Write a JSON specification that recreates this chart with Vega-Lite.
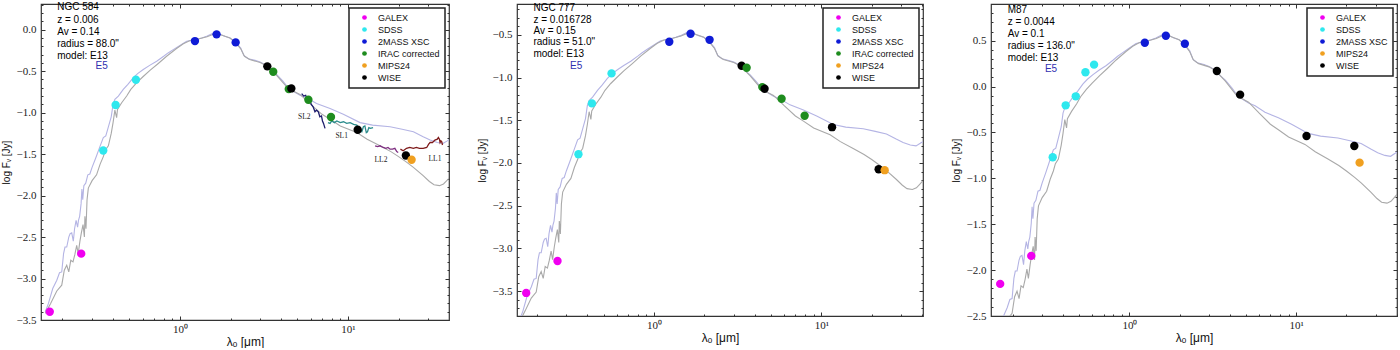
{
"$schema": "https://vega.github.io/schema/vega-lite/v6.json",
"background": "white",
"padding": {"left": 0, "top": 1, "right": 0, "bottom": 0},
"bounds": "flush",
"spacing": 68,
"config": {
  "view": {"stroke": "#333333", "strokeWidth": 1.2},
  "axis": {"domain": false, "grid": false, "tickColor": "#333333", "tickWidth": 1, "labelFont": "Liberation Serif", "labelFontSize": 11, "labelColor": "#222222", "titleFont": "Liberation Sans", "titleFontWeight": "normal", "titleColor": "#111111", "labelOverlap": false, "labelFlush": false, "labelBound": false},
  "legend": {"orient": "top-right", "offset": 4, "padding": 5, "strokeColor": "#222222", "strokeWidth": 1.5, "fillColor": "#ffffff", "cornerRadius": 0, "labelFont": "Liberation Sans", "labelFontSize": 9, "labelColor": "#111111", "symbolSize": 22, "symbolOffset": 6, "labelOffset": 9, "rowPadding": 2, "symbolStrokeWidth": 0}
},
"datasets": {
"pts": [
{"p":1,"inst":"GALEX","lam":0.168,"f":-3.40},{"p":1,"inst":"GALEX","lam":0.2585,"f":-2.70},
{"p":1,"inst":"SDSS","lam":0.3496,"f":-1.456},{"p":1,"inst":"SDSS","lam":0.4143,"f":-0.908},{"p":1,"inst":"SDSS","lam":0.547,"f":-0.603},
{"p":1,"inst":"2MASS XSC","lam":1.228,"f":-0.137},{"p":1,"inst":"2MASS XSC","lam":1.652,"f":-0.056},{"p":1,"inst":"2MASS XSC","lam":2.145,"f":-0.153},
{"p":1,"inst":"WISE","lam":3.31,"f":-0.442},
{"p":1,"inst":"IRAC corrected","lam":3.59,"f":-0.507},{"p":1,"inst":"IRAC corrected","lam":4.44,"f":-0.716},{"p":1,"inst":"IRAC corrected","lam":5.81,"f":-0.844},{"p":1,"inst":"IRAC corrected","lam":7.92,"f":-1.053},
{"p":1,"inst":"WISE","lam":4.6,"f":-0.708},{"p":1,"inst":"WISE","lam":11.42,"f":-1.206},{"p":1,"inst":"WISE","lam":22.1,"f":-1.516},
{"p":1,"inst":"MIPS24","lam":23.9,"f":-1.568},
{"p":2,"inst":"GALEX","lam":0.1725,"f":-3.52},{"p":2,"inst":"GALEX","lam":0.2654,"f":-3.146},
{"p":2,"inst":"SDSS","lam":0.354,"f":-1.897},{"p":2,"inst":"SDSS","lam":0.426,"f":-1.303},{"p":2,"inst":"SDSS","lam":0.558,"f":-0.952},
{"p":2,"inst":"2MASS XSC","lam":1.235,"f":-0.582},{"p":2,"inst":"2MASS XSC","lam":1.655,"f":-0.488},{"p":2,"inst":"2MASS XSC","lam":2.15,"f":-0.559},
{"p":2,"inst":"WISE","lam":3.34,"f":-0.863},
{"p":2,"inst":"IRAC corrected","lam":3.58,"f":-0.886},{"p":2,"inst":"IRAC corrected","lam":4.44,"f":-1.112},{"p":2,"inst":"IRAC corrected","lam":5.79,"f":-1.249},{"p":2,"inst":"IRAC corrected","lam":7.95,"f":-1.448},
{"p":2,"inst":"WISE","lam":4.58,"f":-1.132},{"p":2,"inst":"WISE","lam":11.59,"f":-1.581},{"p":2,"inst":"WISE","lam":22.0,"f":-2.073},
{"p":2,"inst":"MIPS24","lam":23.9,"f":-2.084},
{"p":3,"inst":"GALEX","lam":0.168,"f":-2.15},{"p":3,"inst":"GALEX","lam":0.258,"f":-1.845},
{"p":3,"inst":"SDSS","lam":0.347,"f":-0.77},{"p":3,"inst":"SDSS","lam":0.415,"f":-0.204},{"p":3,"inst":"SDSS","lam":0.477,"f":-0.106},{"p":3,"inst":"SDSS","lam":0.545,"f":0.156},{"p":3,"inst":"SDSS","lam":0.614,"f":0.239},
{"p":3,"inst":"2MASS XSC","lam":1.237,"f":0.478},{"p":3,"inst":"2MASS XSC","lam":1.654,"f":0.554},{"p":3,"inst":"2MASS XSC","lam":2.15,"f":0.467},
{"p":3,"inst":"WISE","lam":3.344,"f":0.17},{"p":3,"inst":"WISE","lam":4.61,"f":-0.088},{"p":3,"inst":"WISE","lam":11.53,"f":-0.538},{"p":3,"inst":"WISE","lam":22.3,"f":-0.647},
{"p":3,"inst":"MIPS24","lam":23.99,"f":-0.829}
],
"ann": [
{"p":1,"c":"k","t":"NGC 584","lam":0.186,"f":0.274},{"p":1,"c":"k","t":"z = 0.006","lam":0.186,"f":0.121},{"p":1,"c":"k","t":"Av = 0.14","lam":0.186,"f":-0.028},{"p":1,"c":"k","t":"radius = 88.0\"","lam":0.186,"f":-0.172},{"p":1,"c":"k","t":"model: E13","lam":0.186,"f":-0.314},{"p":1,"c":"b","t":"E5","lam":0.342,"f":-0.443},
{"p":2,"c":"k","t":"NGC 777","lam":0.1906,"f":-0.191},{"p":2,"c":"k","t":"z = 0.016728","lam":0.1906,"f":-0.328},{"p":2,"c":"k","t":"Av = 0.15","lam":0.1906,"f":-0.457},{"p":2,"c":"k","t":"radius = 51.0\"","lam":0.1906,"f":-0.589},{"p":2,"c":"k","t":"model: E13","lam":0.1906,"f":-0.726},{"p":2,"c":"b","t":"E5","lam":0.343,"f":-0.863},
{"p":3,"c":"k","t":"M87","lam":0.1864,"f":0.834},{"p":3,"c":"k","t":"z = 0.0044","lam":0.1864,"f":0.704},{"p":3,"c":"k","t":"Av = 0.1","lam":0.1864,"f":0.573},{"p":3,"c":"k","t":"radius = 136.0\"","lam":0.1864,"f":0.442},{"p":3,"c":"k","t":"model: E13","lam":0.1864,"f":0.312},{"p":3,"c":"b","t":"E5","lam":0.339,"f":0.192}
],
"irs": [
{"seg":"SL2","lam":5.30,"f":-0.77},{"seg":"SL2","lam":5.45,"f":-0.80},{"seg":"SL2","lam":5.60,"f":-0.79},{"seg":"SL2","lam":5.75,"f":-0.85},{"seg":"SL2","lam":5.90,"f":-0.84},{"seg":"SL2","lam":6.05,"f":-0.90},{"seg":"SL2","lam":6.20,"f":-0.93},{"seg":"SL2","lam":6.36,"f":-0.99},{"seg":"SL2","lam":6.50,"f":-0.97},{"seg":"SL2","lam":6.66,"f":-0.99},{"seg":"SL2","lam":6.80,"f":-1.05},{"seg":"SL2","lam":6.95,"f":-1.04},{"seg":"SL2","lam":7.05,"f":-1.10},{"seg":"SL2","lam":7.15,"f":-1.13},{"seg":"SL2","lam":7.30,"f":-1.19},
{"seg":"SL1","lam":7.60,"f":-1.12},{"seg":"SL1","lam":7.82,"f":-1.13},{"seg":"SL1","lam":8.0,"f":-1.10},{"seg":"SL1","lam":8.3,"f":-1.12},{"seg":"SL1","lam":8.58,"f":-1.10},{"seg":"SL1","lam":9.0,"f":-1.12},{"seg":"SL1","lam":9.4,"f":-1.11},{"seg":"SL1","lam":9.82,"f":-1.13},{"seg":"SL1","lam":10.3,"f":-1.12},{"seg":"SL1","lam":10.8,"f":-1.14},{"seg":"SL1","lam":11.28,"f":-1.15},{"seg":"SL1","lam":11.7,"f":-1.20},{"seg":"SL1","lam":12.08,"f":-1.23},{"seg":"SL1","lam":12.35,"f":-1.17},{"seg":"SL1","lam":12.6,"f":-1.16},{"seg":"SL1","lam":12.85,"f":-1.24},{"seg":"SL1","lam":13.06,"f":-1.23},{"seg":"SL1","lam":13.3,"f":-1.18},{"seg":"SL1","lam":13.6,"f":-1.19},{"seg":"SL1","lam":14.1,"f":-1.18},
{"seg":"LL2","lam":14.5,"f":-1.40},{"seg":"LL2","lam":15.0,"f":-1.41},{"seg":"LL2","lam":15.5,"f":-1.40},{"seg":"LL2","lam":16.2,"f":-1.42},{"seg":"LL2","lam":16.8,"f":-1.43},{"seg":"LL2","lam":17.3,"f":-1.42},{"seg":"LL2","lam":17.8,"f":-1.44},{"seg":"LL2","lam":18.4,"f":-1.44},{"seg":"LL2","lam":19.0,"f":-1.43},{"seg":"LL2","lam":19.5,"f":-1.47},{"seg":"LL2","lam":19.9,"f":-1.48},
{"seg":"LL1","lam":20.5,"f":-1.44},{"seg":"LL1","lam":21.3,"f":-1.46},{"seg":"LL1","lam":22.3,"f":-1.43},{"seg":"LL1","lam":23.3,"f":-1.42},{"seg":"LL1","lam":24.5,"f":-1.43},{"seg":"LL1","lam":25.5,"f":-1.42},{"seg":"LL1","lam":26.6,"f":-1.43},{"seg":"LL1","lam":28.0,"f":-1.43},{"seg":"LL1","lam":29.4,"f":-1.42},{"seg":"LL1","lam":30.2,"f":-1.38},{"seg":"LL1","lam":30.8,"f":-1.36},{"seg":"LL1","lam":31.8,"f":-1.36},{"seg":"LL1","lam":32.9,"f":-1.33},{"seg":"LL1","lam":34.0,"f":-1.32},{"seg":"LL1","lam":34.5,"f":-1.30},{"seg":"LL1","lam":35.0,"f":-1.32},{"seg":"LL1","lam":35.3,"f":-1.36},{"seg":"LL1","lam":35.7,"f":-1.34},{"seg":"LL1","lam":36.1,"f":-1.35},{"seg":"LL1","lam":36.5,"f":-1.39}
],
"irslab": [
{"t":"SL2","lam":5.5,"f":-1.05},{"t":"SL1","lam":9.17,"f":-1.28},{"t":"LL2","lam":15.7,"f":-1.57},{"t":"LL1","lam":32.9,"f":-1.556}
],
"models": [
{"p":1,"m":"E5","lam":0.158,"f":-3.40},{"p":1,"m":"E5","lam":0.165,"f":-3.30},{"p":1,"m":"E5","lam":0.175,"f":-3.12},{"p":1,"m":"E5","lam":0.185,"f":-3.02},{"p":1,"m":"E5","lam":0.192,"f":-2.93},{"p":1,"m":"E5","lam":0.198,"f":-2.92},{"p":1,"m":"E5","lam":0.203,"f":-2.70},{"p":1,"m":"E5","lam":0.207,"f":-2.62},{"p":1,"m":"E5","lam":0.212,"f":-2.62},{"p":1,"m":"E5","lam":0.218,"f":-2.50},{"p":1,"m":"E5","lam":0.222,"f":-2.46},{"p":1,"m":"E5","lam":0.227,"f":-2.45},{"p":1,"m":"E5","lam":0.232,"f":-2.55},{"p":1,"m":"E5","lam":0.236,"f":-2.40},{"p":1,"m":"E5","lam":0.241,"f":-2.30},{"p":1,"m":"E5","lam":0.246,"f":-2.38},{"p":1,"m":"E5","lam":0.249,"f":-2.30},{"p":1,"m":"E5","lam":0.253,"f":-2.25},{"p":1,"m":"E5","lam":0.258,"f":-2.10},{"p":1,"m":"E5","lam":0.261,"f":-1.92},{"p":1,"m":"E5","lam":0.264,"f":-2.05},{"p":1,"m":"E5","lam":0.268,"f":-1.88},{"p":1,"m":"E5","lam":0.275,"f":-1.85},{"p":1,"m":"E5","lam":0.283,"f":-1.75},{"p":1,"m":"E5","lam":0.291,"f":-1.74},{"p":1,"m":"E5","lam":0.30,"f":-1.66},{"p":1,"m":"E5","lam":0.315,"f":-1.55},{"p":1,"m":"E5","lam":0.334,"f":-1.41},{"p":1,"m":"E5","lam":0.350,"f":-1.30},{"p":1,"m":"E5","lam":0.362,"f":-1.28},{"p":1,"m":"E5","lam":0.374,"f":-1.18},{"p":1,"m":"E5","lam":0.39,"f":-1.05},{"p":1,"m":"E5","lam":0.40,"f":-0.90},{"p":1,"m":"E5","lam":0.41,"f":-0.84},{"p":1,"m":"E5","lam":0.43,"f":-0.80},{"p":1,"m":"E5","lam":0.46,"f":-0.72},{"p":1,"m":"E5","lam":0.49,"f":-0.66},{"p":1,"m":"E5","lam":0.527,"f":-0.58},{"p":1,"m":"E5","lam":0.56,"f":-0.53},{"p":1,"m":"E5","lam":0.605,"f":-0.48},{"p":1,"m":"E5","lam":0.66,"f":-0.43},{"p":1,"m":"E5","lam":0.727,"f":-0.38},{"p":1,"m":"E5","lam":0.80,"f":-0.32},{"p":1,"m":"E5","lam":0.85,"f":-0.28},{"p":1,"m":"E5","lam":0.912,"f":-0.24},{"p":1,"m":"E5","lam":1.00,"f":-0.19},{"p":1,"m":"E5","lam":1.096,"f":-0.14},{"p":1,"m":"E5","lam":1.23,"f":-0.12},{"p":1,"m":"E5","lam":1.35,"f":-0.10},{"p":1,"m":"E5","lam":1.442,"f":-0.08},{"p":1,"m":"E5","lam":1.55,"f":-0.05},{"p":1,"m":"E5","lam":1.65,"f":-0.035},{"p":1,"m":"E5","lam":1.75,"f":-0.06},{"p":1,"m":"E5","lam":1.85,"f":-0.08},{"p":1,"m":"E5","lam":1.985,"f":-0.10},{"p":1,"m":"E5","lam":2.145,"f":-0.15},{"p":1,"m":"E5","lam":2.30,"f":-0.22},{"p":1,"m":"E5","lam":2.40,"f":-0.31},{"p":1,"m":"E5","lam":2.55,"f":-0.35},{"p":1,"m":"E5","lam":2.80,"f":-0.37},{"p":1,"m":"E5","lam":3.00,"f":-0.39},{"p":1,"m":"E5","lam":3.28,"f":-0.43},{"p":1,"m":"E5","lam":3.50,"f":-0.49},{"p":1,"m":"E5","lam":3.76,"f":-0.54},{"p":1,"m":"E5","lam":4.10,"f":-0.62},{"p":1,"m":"E5","lam":4.41,"f":-0.70},{"p":1,"m":"E5","lam":4.80,"f":-0.75},{"p":1,"m":"E5","lam":5.18,"f":-0.79},{"p":1,"m":"E5","lam":5.67,"f":-0.82},{"p":1,"m":"E5","lam":6.50,"f":-0.89},{"p":1,"m":"E5","lam":7.82,"f":-0.95},{"p":1,"m":"E5","lam":9.38,"f":-1.02},{"p":1,"m":"E5","lam":11.8,"f":-1.12},{"p":1,"m":"E5","lam":14.0,"f":-1.15},{"p":1,"m":"E5","lam":17.8,"f":-1.17},{"p":1,"m":"E5","lam":21.0,"f":-1.20},{"p":1,"m":"E5","lam":24.5,"f":-1.23},{"p":1,"m":"E5","lam":28.0,"f":-1.29},{"p":1,"m":"E5","lam":30.8,"f":-1.33},{"p":1,"m":"E5","lam":34.0,"f":-1.36},{"p":1,"m":"E5","lam":36.8,"f":-1.37},{"p":1,"m":"E5","lam":39.0,"f":-1.34},{"p":1,"m":"E5","lam":40.4,"f":-1.32},
{"p":2,"m":"E5","lam":0.158,"f":-3.83},{"p":2,"m":"E5","lam":0.165,"f":-3.73},{"p":2,"m":"E5","lam":0.175,"f":-3.55},{"p":2,"m":"E5","lam":0.185,"f":-3.45},{"p":2,"m":"E5","lam":0.192,"f":-3.36},{"p":2,"m":"E5","lam":0.198,"f":-3.35},{"p":2,"m":"E5","lam":0.203,"f":-3.13},{"p":2,"m":"E5","lam":0.207,"f":-3.05},{"p":2,"m":"E5","lam":0.212,"f":-3.05},{"p":2,"m":"E5","lam":0.218,"f":-2.93},{"p":2,"m":"E5","lam":0.222,"f":-2.89},{"p":2,"m":"E5","lam":0.227,"f":-2.88},{"p":2,"m":"E5","lam":0.232,"f":-2.98},{"p":2,"m":"E5","lam":0.236,"f":-2.83},{"p":2,"m":"E5","lam":0.241,"f":-2.73},{"p":2,"m":"E5","lam":0.246,"f":-2.81},{"p":2,"m":"E5","lam":0.249,"f":-2.73},{"p":2,"m":"E5","lam":0.253,"f":-2.68},{"p":2,"m":"E5","lam":0.258,"f":-2.53},{"p":2,"m":"E5","lam":0.261,"f":-2.35},{"p":2,"m":"E5","lam":0.264,"f":-2.48},{"p":2,"m":"E5","lam":0.268,"f":-2.31},{"p":2,"m":"E5","lam":0.275,"f":-2.28},{"p":2,"m":"E5","lam":0.283,"f":-2.18},{"p":2,"m":"E5","lam":0.291,"f":-2.17},{"p":2,"m":"E5","lam":0.30,"f":-2.09},{"p":2,"m":"E5","lam":0.315,"f":-1.98},{"p":2,"m":"E5","lam":0.334,"f":-1.84},{"p":2,"m":"E5","lam":0.350,"f":-1.73},{"p":2,"m":"E5","lam":0.362,"f":-1.71},{"p":2,"m":"E5","lam":0.374,"f":-1.61},{"p":2,"m":"E5","lam":0.39,"f":-1.48},{"p":2,"m":"E5","lam":0.40,"f":-1.33},{"p":2,"m":"E5","lam":0.41,"f":-1.27},{"p":2,"m":"E5","lam":0.43,"f":-1.23},{"p":2,"m":"E5","lam":0.46,"f":-1.15},{"p":2,"m":"E5","lam":0.49,"f":-1.09},{"p":2,"m":"E5","lam":0.527,"f":-1.01},{"p":2,"m":"E5","lam":0.56,"f":-0.96},{"p":2,"m":"E5","lam":0.605,"f":-0.91},{"p":2,"m":"E5","lam":0.66,"f":-0.86},{"p":2,"m":"E5","lam":0.727,"f":-0.81},{"p":2,"m":"E5","lam":0.80,"f":-0.75},{"p":2,"m":"E5","lam":0.85,"f":-0.71},{"p":2,"m":"E5","lam":0.912,"f":-0.67},{"p":2,"m":"E5","lam":1.00,"f":-0.62},{"p":2,"m":"E5","lam":1.096,"f":-0.57},{"p":2,"m":"E5","lam":1.23,"f":-0.55},{"p":2,"m":"E5","lam":1.35,"f":-0.53},{"p":2,"m":"E5","lam":1.442,"f":-0.51},{"p":2,"m":"E5","lam":1.55,"f":-0.48},{"p":2,"m":"E5","lam":1.65,"f":-0.465},{"p":2,"m":"E5","lam":1.75,"f":-0.49},{"p":2,"m":"E5","lam":1.85,"f":-0.51},{"p":2,"m":"E5","lam":1.985,"f":-0.53},{"p":2,"m":"E5","lam":2.145,"f":-0.58},{"p":2,"m":"E5","lam":2.30,"f":-0.65},{"p":2,"m":"E5","lam":2.40,"f":-0.74},{"p":2,"m":"E5","lam":2.55,"f":-0.78},{"p":2,"m":"E5","lam":2.80,"f":-0.80},{"p":2,"m":"E5","lam":3.00,"f":-0.82},{"p":2,"m":"E5","lam":3.28,"f":-0.86},{"p":2,"m":"E5","lam":3.50,"f":-0.92},{"p":2,"m":"E5","lam":3.76,"f":-0.97},{"p":2,"m":"E5","lam":4.10,"f":-1.05},{"p":2,"m":"E5","lam":4.41,"f":-1.13},{"p":2,"m":"E5","lam":4.80,"f":-1.18},{"p":2,"m":"E5","lam":5.18,"f":-1.22},{"p":2,"m":"E5","lam":5.67,"f":-1.25},{"p":2,"m":"E5","lam":6.50,"f":-1.32},{"p":2,"m":"E5","lam":7.82,"f":-1.38},{"p":2,"m":"E5","lam":9.38,"f":-1.45},{"p":2,"m":"E5","lam":11.8,"f":-1.55},{"p":2,"m":"E5","lam":14.0,"f":-1.58},{"p":2,"m":"E5","lam":17.8,"f":-1.60},{"p":2,"m":"E5","lam":21.0,"f":-1.63},{"p":2,"m":"E5","lam":24.5,"f":-1.66},{"p":2,"m":"E5","lam":28.0,"f":-1.72},{"p":2,"m":"E5","lam":30.8,"f":-1.76},{"p":2,"m":"E5","lam":34.0,"f":-1.79},{"p":2,"m":"E5","lam":36.8,"f":-1.80},{"p":2,"m":"E5","lam":39.0,"f":-1.77},{"p":2,"m":"E5","lam":40.4,"f":-1.75},
{"p":3,"m":"E5","lam":0.158,"f":-2.79},{"p":3,"m":"E5","lam":0.165,"f":-2.69},{"p":3,"m":"E5","lam":0.175,"f":-2.51},{"p":3,"m":"E5","lam":0.185,"f":-2.41},{"p":3,"m":"E5","lam":0.192,"f":-2.32},{"p":3,"m":"E5","lam":0.198,"f":-2.31},{"p":3,"m":"E5","lam":0.203,"f":-2.09},{"p":3,"m":"E5","lam":0.207,"f":-2.01},{"p":3,"m":"E5","lam":0.212,"f":-2.01},{"p":3,"m":"E5","lam":0.218,"f":-1.89},{"p":3,"m":"E5","lam":0.222,"f":-1.85},{"p":3,"m":"E5","lam":0.227,"f":-1.84},{"p":3,"m":"E5","lam":0.232,"f":-1.94},{"p":3,"m":"E5","lam":0.236,"f":-1.79},{"p":3,"m":"E5","lam":0.241,"f":-1.69},{"p":3,"m":"E5","lam":0.246,"f":-1.77},{"p":3,"m":"E5","lam":0.249,"f":-1.69},{"p":3,"m":"E5","lam":0.253,"f":-1.64},{"p":3,"m":"E5","lam":0.258,"f":-1.49},{"p":3,"m":"E5","lam":0.261,"f":-1.31},{"p":3,"m":"E5","lam":0.264,"f":-1.44},{"p":3,"m":"E5","lam":0.268,"f":-1.27},{"p":3,"m":"E5","lam":0.275,"f":-1.24},{"p":3,"m":"E5","lam":0.283,"f":-1.14},{"p":3,"m":"E5","lam":0.291,"f":-1.13},{"p":3,"m":"E5","lam":0.30,"f":-1.05},{"p":3,"m":"E5","lam":0.315,"f":-0.94},{"p":3,"m":"E5","lam":0.334,"f":-0.80},{"p":3,"m":"E5","lam":0.350,"f":-0.69},{"p":3,"m":"E5","lam":0.362,"f":-0.67},{"p":3,"m":"E5","lam":0.374,"f":-0.57},{"p":3,"m":"E5","lam":0.39,"f":-0.44},{"p":3,"m":"E5","lam":0.40,"f":-0.29},{"p":3,"m":"E5","lam":0.41,"f":-0.23},{"p":3,"m":"E5","lam":0.43,"f":-0.19},{"p":3,"m":"E5","lam":0.46,"f":-0.11},{"p":3,"m":"E5","lam":0.49,"f":-0.05},{"p":3,"m":"E5","lam":0.527,"f":0.03},{"p":3,"m":"E5","lam":0.56,"f":0.08},{"p":3,"m":"E5","lam":0.605,"f":0.13},{"p":3,"m":"E5","lam":0.66,"f":0.18},{"p":3,"m":"E5","lam":0.727,"f":0.23},{"p":3,"m":"E5","lam":0.80,"f":0.29},{"p":3,"m":"E5","lam":0.85,"f":0.33},{"p":3,"m":"E5","lam":0.912,"f":0.37},{"p":3,"m":"E5","lam":1.00,"f":0.42},{"p":3,"m":"E5","lam":1.096,"f":0.47},{"p":3,"m":"E5","lam":1.23,"f":0.49},{"p":3,"m":"E5","lam":1.35,"f":0.51},{"p":3,"m":"E5","lam":1.442,"f":0.53},{"p":3,"m":"E5","lam":1.55,"f":0.56},{"p":3,"m":"E5","lam":1.65,"f":0.575},{"p":3,"m":"E5","lam":1.75,"f":0.55},{"p":3,"m":"E5","lam":1.85,"f":0.53},{"p":3,"m":"E5","lam":1.985,"f":0.51},{"p":3,"m":"E5","lam":2.145,"f":0.46},{"p":3,"m":"E5","lam":2.30,"f":0.39},{"p":3,"m":"E5","lam":2.40,"f":0.30},{"p":3,"m":"E5","lam":2.55,"f":0.26},{"p":3,"m":"E5","lam":2.80,"f":0.24},{"p":3,"m":"E5","lam":3.00,"f":0.22},{"p":3,"m":"E5","lam":3.28,"f":0.18},{"p":3,"m":"E5","lam":3.50,"f":0.12},{"p":3,"m":"E5","lam":3.76,"f":0.07},{"p":3,"m":"E5","lam":4.10,"f":-0.01},{"p":3,"m":"E5","lam":4.41,"f":-0.09},{"p":3,"m":"E5","lam":4.80,"f":-0.14},{"p":3,"m":"E5","lam":5.18,"f":-0.18},{"p":3,"m":"E5","lam":5.67,"f":-0.21},{"p":3,"m":"E5","lam":6.50,"f":-0.28},{"p":3,"m":"E5","lam":7.82,"f":-0.34},{"p":3,"m":"E5","lam":9.38,"f":-0.41},{"p":3,"m":"E5","lam":11.8,"f":-0.51},{"p":3,"m":"E5","lam":14.0,"f":-0.54},{"p":3,"m":"E5","lam":17.8,"f":-0.56},{"p":3,"m":"E5","lam":21.0,"f":-0.59},{"p":3,"m":"E5","lam":24.5,"f":-0.62},{"p":3,"m":"E5","lam":28.0,"f":-0.68},{"p":3,"m":"E5","lam":30.8,"f":-0.72},{"p":3,"m":"E5","lam":34.0,"f":-0.75},{"p":3,"m":"E5","lam":36.8,"f":-0.76},{"p":3,"m":"E5","lam":39.0,"f":-0.73},{"p":3,"m":"E5","lam":40.4,"f":-0.71},
{"p":1,"m":"E13","lam":0.158,"f":-3.42},{"p":1,"m":"E13","lam":0.17,"f":-3.30},{"p":1,"m":"E13","lam":0.185,"f":-3.15},{"p":1,"m":"E13","lam":0.198,"f":-3.08},{"p":1,"m":"E13","lam":0.205,"f":-2.90},{"p":1,"m":"E13","lam":0.212,"f":-2.84},{"p":1,"m":"E13","lam":0.218,"f":-2.92},{"p":1,"m":"E13","lam":0.224,"f":-2.78},{"p":1,"m":"E13","lam":0.231,"f":-2.80},{"p":1,"m":"E13","lam":0.237,"f":-2.71},{"p":1,"m":"E13","lam":0.243,"f":-2.60},{"p":1,"m":"E13","lam":0.248,"f":-2.70},{"p":1,"m":"E13","lam":0.254,"f":-2.55},{"p":1,"m":"E13","lam":0.259,"f":-2.45},{"p":1,"m":"E13","lam":0.265,"f":-2.35},{"p":1,"m":"E13","lam":0.270,"f":-2.50},{"p":1,"m":"E13","lam":0.272,"f":-2.25},{"p":1,"m":"E13","lam":0.276,"f":-2.40},{"p":1,"m":"E13","lam":0.28,"f":-2.05},{"p":1,"m":"E13","lam":0.285,"f":-1.91},{"p":1,"m":"E13","lam":0.30,"f":-1.82},{"p":1,"m":"E13","lam":0.319,"f":-1.75},{"p":1,"m":"E13","lam":0.335,"f":-1.62},{"p":1,"m":"E13","lam":0.35,"f":-1.53},{"p":1,"m":"E13","lam":0.36,"f":-1.45},{"p":1,"m":"E13","lam":0.375,"f":-1.40},{"p":1,"m":"E13","lam":0.39,"f":-1.25},{"p":1,"m":"E13","lam":0.40,"f":-1.12},{"p":1,"m":"E13","lam":0.41,"f":-0.97},{"p":1,"m":"E13","lam":0.42,"f":-1.06},{"p":1,"m":"E13","lam":0.425,"f":-0.96},{"p":1,"m":"E13","lam":0.45,"f":-0.88},{"p":1,"m":"E13","lam":0.482,"f":-0.80},{"p":1,"m":"E13","lam":0.51,"f":-0.72},{"p":1,"m":"E13","lam":0.552,"f":-0.64},{"p":1,"m":"E13","lam":0.60,"f":-0.57},{"p":1,"m":"E13","lam":0.663,"f":-0.49},{"p":1,"m":"E13","lam":0.74,"f":-0.41},{"p":1,"m":"E13","lam":0.833,"f":-0.32},{"p":1,"m":"E13","lam":0.95,"f":-0.23},{"p":1,"m":"E13","lam":1.047,"f":-0.17},{"p":1,"m":"E13","lam":1.15,"f":-0.13},{"p":1,"m":"E13","lam":1.3,"f":-0.11},{"p":1,"m":"E13","lam":1.45,"f":-0.085},{"p":1,"m":"E13","lam":1.65,"f":-0.04},{"p":1,"m":"E13","lam":1.80,"f":-0.07},{"p":1,"m":"E13","lam":1.985,"f":-0.10},{"p":1,"m":"E13","lam":2.145,"f":-0.155},{"p":1,"m":"E13","lam":2.30,"f":-0.23},{"p":1,"m":"E13","lam":2.42,"f":-0.32},{"p":1,"m":"E13","lam":2.60,"f":-0.36},{"p":1,"m":"E13","lam":3.00,"f":-0.395},{"p":1,"m":"E13","lam":3.28,"f":-0.435},{"p":1,"m":"E13","lam":3.76,"f":-0.55},{"p":1,"m":"E13","lam":4.41,"f":-0.71},{"p":1,"m":"E13","lam":5.18,"f":-0.78},{"p":1,"m":"E13","lam":6.00,"f":-0.90},{"p":1,"m":"E13","lam":7.00,"f":-1.02},{"p":1,"m":"E13","lam":7.82,"f":-1.08},{"p":1,"m":"E13","lam":9.00,"f":-1.16},{"p":1,"m":"E13","lam":11.28,"f":-1.24},{"p":1,"m":"E13","lam":13.0,"f":-1.32},{"p":1,"m":"E13","lam":15.5,"f":-1.40},{"p":1,"m":"E13","lam":18.0,"f":-1.47},{"p":1,"m":"E13","lam":20.0,"f":-1.53},{"p":1,"m":"E13","lam":22.4,"f":-1.60},{"p":1,"m":"E13","lam":24.5,"f":-1.66},{"p":1,"m":"E13","lam":28.0,"f":-1.76},{"p":1,"m":"E13","lam":30.5,"f":-1.83},{"p":1,"m":"E13","lam":32.5,"f":-1.87},{"p":1,"m":"E13","lam":35.0,"f":-1.88},{"p":1,"m":"E13","lam":37.0,"f":-1.86},{"p":1,"m":"E13","lam":38.7,"f":-1.82},{"p":1,"m":"E13","lam":40.4,"f":-1.78},
{"p":2,"m":"E13","lam":0.158,"f":-3.85},{"p":2,"m":"E13","lam":0.17,"f":-3.73},{"p":2,"m":"E13","lam":0.185,"f":-3.58},{"p":2,"m":"E13","lam":0.198,"f":-3.51},{"p":2,"m":"E13","lam":0.205,"f":-3.33},{"p":2,"m":"E13","lam":0.212,"f":-3.27},{"p":2,"m":"E13","lam":0.218,"f":-3.35},{"p":2,"m":"E13","lam":0.224,"f":-3.21},{"p":2,"m":"E13","lam":0.231,"f":-3.23},{"p":2,"m":"E13","lam":0.237,"f":-3.14},{"p":2,"m":"E13","lam":0.243,"f":-3.03},{"p":2,"m":"E13","lam":0.248,"f":-3.13},{"p":2,"m":"E13","lam":0.254,"f":-2.98},{"p":2,"m":"E13","lam":0.259,"f":-2.88},{"p":2,"m":"E13","lam":0.265,"f":-2.78},{"p":2,"m":"E13","lam":0.270,"f":-2.93},{"p":2,"m":"E13","lam":0.272,"f":-2.68},{"p":2,"m":"E13","lam":0.276,"f":-2.83},{"p":2,"m":"E13","lam":0.28,"f":-2.48},{"p":2,"m":"E13","lam":0.285,"f":-2.34},{"p":2,"m":"E13","lam":0.30,"f":-2.25},{"p":2,"m":"E13","lam":0.319,"f":-2.18},{"p":2,"m":"E13","lam":0.335,"f":-2.05},{"p":2,"m":"E13","lam":0.35,"f":-1.96},{"p":2,"m":"E13","lam":0.36,"f":-1.88},{"p":2,"m":"E13","lam":0.375,"f":-1.83},{"p":2,"m":"E13","lam":0.39,"f":-1.68},{"p":2,"m":"E13","lam":0.40,"f":-1.55},{"p":2,"m":"E13","lam":0.41,"f":-1.40},{"p":2,"m":"E13","lam":0.42,"f":-1.49},{"p":2,"m":"E13","lam":0.425,"f":-1.39},{"p":2,"m":"E13","lam":0.45,"f":-1.31},{"p":2,"m":"E13","lam":0.482,"f":-1.23},{"p":2,"m":"E13","lam":0.51,"f":-1.15},{"p":2,"m":"E13","lam":0.552,"f":-1.07},{"p":2,"m":"E13","lam":0.60,"f":-1.00},{"p":2,"m":"E13","lam":0.663,"f":-0.92},{"p":2,"m":"E13","lam":0.74,"f":-0.84},{"p":2,"m":"E13","lam":0.833,"f":-0.75},{"p":2,"m":"E13","lam":0.95,"f":-0.66},{"p":2,"m":"E13","lam":1.047,"f":-0.60},{"p":2,"m":"E13","lam":1.15,"f":-0.56},{"p":2,"m":"E13","lam":1.3,"f":-0.54},{"p":2,"m":"E13","lam":1.45,"f":-0.515},{"p":2,"m":"E13","lam":1.65,"f":-0.47},{"p":2,"m":"E13","lam":1.80,"f":-0.50},{"p":2,"m":"E13","lam":1.985,"f":-0.53},{"p":2,"m":"E13","lam":2.145,"f":-0.585},{"p":2,"m":"E13","lam":2.30,"f":-0.66},{"p":2,"m":"E13","lam":2.42,"f":-0.75},{"p":2,"m":"E13","lam":2.60,"f":-0.79},{"p":2,"m":"E13","lam":3.00,"f":-0.825},{"p":2,"m":"E13","lam":3.28,"f":-0.865},{"p":2,"m":"E13","lam":3.76,"f":-0.98},{"p":2,"m":"E13","lam":4.41,"f":-1.14},{"p":2,"m":"E13","lam":5.18,"f":-1.21},{"p":2,"m":"E13","lam":6.00,"f":-1.33},{"p":2,"m":"E13","lam":7.00,"f":-1.45},{"p":2,"m":"E13","lam":7.82,"f":-1.51},{"p":2,"m":"E13","lam":9.00,"f":-1.59},{"p":2,"m":"E13","lam":11.28,"f":-1.67},{"p":2,"m":"E13","lam":13.0,"f":-1.75},{"p":2,"m":"E13","lam":15.5,"f":-1.83},{"p":2,"m":"E13","lam":18.0,"f":-1.90},{"p":2,"m":"E13","lam":20.0,"f":-1.96},{"p":2,"m":"E13","lam":22.4,"f":-2.03},{"p":2,"m":"E13","lam":24.5,"f":-2.09},{"p":2,"m":"E13","lam":28.0,"f":-2.19},{"p":2,"m":"E13","lam":30.5,"f":-2.26},{"p":2,"m":"E13","lam":32.5,"f":-2.30},{"p":2,"m":"E13","lam":35.0,"f":-2.31},{"p":2,"m":"E13","lam":37.0,"f":-2.29},{"p":2,"m":"E13","lam":38.7,"f":-2.25},{"p":2,"m":"E13","lam":40.4,"f":-2.21},
{"p":3,"m":"E13","lam":0.158,"f":-2.81},{"p":3,"m":"E13","lam":0.17,"f":-2.69},{"p":3,"m":"E13","lam":0.185,"f":-2.54},{"p":3,"m":"E13","lam":0.198,"f":-2.47},{"p":3,"m":"E13","lam":0.205,"f":-2.29},{"p":3,"m":"E13","lam":0.212,"f":-2.23},{"p":3,"m":"E13","lam":0.218,"f":-2.31},{"p":3,"m":"E13","lam":0.224,"f":-2.17},{"p":3,"m":"E13","lam":0.231,"f":-2.19},{"p":3,"m":"E13","lam":0.237,"f":-2.10},{"p":3,"m":"E13","lam":0.243,"f":-1.99},{"p":3,"m":"E13","lam":0.248,"f":-2.09},{"p":3,"m":"E13","lam":0.254,"f":-1.94},{"p":3,"m":"E13","lam":0.259,"f":-1.84},{"p":3,"m":"E13","lam":0.265,"f":-1.74},{"p":3,"m":"E13","lam":0.270,"f":-1.89},{"p":3,"m":"E13","lam":0.272,"f":-1.64},{"p":3,"m":"E13","lam":0.276,"f":-1.79},{"p":3,"m":"E13","lam":0.28,"f":-1.44},{"p":3,"m":"E13","lam":0.285,"f":-1.30},{"p":3,"m":"E13","lam":0.30,"f":-1.21},{"p":3,"m":"E13","lam":0.319,"f":-1.14},{"p":3,"m":"E13","lam":0.335,"f":-1.01},{"p":3,"m":"E13","lam":0.35,"f":-0.92},{"p":3,"m":"E13","lam":0.36,"f":-0.84},{"p":3,"m":"E13","lam":0.375,"f":-0.79},{"p":3,"m":"E13","lam":0.39,"f":-0.64},{"p":3,"m":"E13","lam":0.40,"f":-0.51},{"p":3,"m":"E13","lam":0.41,"f":-0.36},{"p":3,"m":"E13","lam":0.42,"f":-0.45},{"p":3,"m":"E13","lam":0.425,"f":-0.35},{"p":3,"m":"E13","lam":0.45,"f":-0.27},{"p":3,"m":"E13","lam":0.482,"f":-0.19},{"p":3,"m":"E13","lam":0.51,"f":-0.11},{"p":3,"m":"E13","lam":0.552,"f":-0.03},{"p":3,"m":"E13","lam":0.60,"f":0.04},{"p":3,"m":"E13","lam":0.663,"f":0.12},{"p":3,"m":"E13","lam":0.74,"f":0.20},{"p":3,"m":"E13","lam":0.833,"f":0.29},{"p":3,"m":"E13","lam":0.95,"f":0.38},{"p":3,"m":"E13","lam":1.047,"f":0.44},{"p":3,"m":"E13","lam":1.15,"f":0.48},{"p":3,"m":"E13","lam":1.3,"f":0.50},{"p":3,"m":"E13","lam":1.45,"f":0.525},{"p":3,"m":"E13","lam":1.65,"f":0.57},{"p":3,"m":"E13","lam":1.80,"f":0.54},{"p":3,"m":"E13","lam":1.985,"f":0.51},{"p":3,"m":"E13","lam":2.145,"f":0.455},{"p":3,"m":"E13","lam":2.30,"f":0.38},{"p":3,"m":"E13","lam":2.42,"f":0.29},{"p":3,"m":"E13","lam":2.60,"f":0.25},{"p":3,"m":"E13","lam":3.00,"f":0.215},{"p":3,"m":"E13","lam":3.28,"f":0.175},{"p":3,"m":"E13","lam":3.76,"f":0.06},{"p":3,"m":"E13","lam":4.41,"f":-0.10},{"p":3,"m":"E13","lam":5.18,"f":-0.17},{"p":3,"m":"E13","lam":6.00,"f":-0.29},{"p":3,"m":"E13","lam":7.00,"f":-0.41},{"p":3,"m":"E13","lam":7.82,"f":-0.47},{"p":3,"m":"E13","lam":9.00,"f":-0.55},{"p":3,"m":"E13","lam":11.28,"f":-0.63},{"p":3,"m":"E13","lam":13.0,"f":-0.71},{"p":3,"m":"E13","lam":15.5,"f":-0.79},{"p":3,"m":"E13","lam":18.0,"f":-0.86},{"p":3,"m":"E13","lam":20.0,"f":-0.92},{"p":3,"m":"E13","lam":22.4,"f":-0.99},{"p":3,"m":"E13","lam":24.5,"f":-1.05},{"p":3,"m":"E13","lam":28.0,"f":-1.15},{"p":3,"m":"E13","lam":30.5,"f":-1.22},{"p":3,"m":"E13","lam":32.5,"f":-1.26},{"p":3,"m":"E13","lam":35.0,"f":-1.27},{"p":3,"m":"E13","lam":37.0,"f":-1.25},{"p":3,"m":"E13","lam":38.7,"f":-1.21},{"p":3,"m":"E13","lam":40.4,"f":-1.17}
]
},
"hconcat": [
{
 "width": 408, "height": 316,
 "encoding": {
  "x": {"field": "lam", "type": "quantitative", "scale": {"type": "log", "domain": [0.149, 39.9]}, "axis": null},
  "y": {"field": "f", "type": "quantitative", "scale": {"domain": [-3.5, 0.31]}, "axis": null}
 },
 "layer": [
  {"data": {"name": "models"}, "transform": [{"filter": "datum.p==1 && datum.m=='E5'"}], "mark": {"type": "line", "color": "#b4b4e4", "strokeWidth": 1.1, "clip": true}},
  {"data": {"name": "models"}, "transform": [{"filter": "datum.p==1 && datum.m=='E13'"}], "mark": {"type": "line", "color": "#a9a9a9", "strokeWidth": 1.1, "clip": true}},
  {"data": {"name": "irs"}, "mark": {"type": "line", "strokeWidth": 1.3, "clip": true}, "encoding": {"stroke": {"field": "seg", "type": "nominal", "scale": {"domain": ["SL2", "SL1", "LL2", "LL1"], "range": ["#1c1c6c", "#2b8c8c", "#7e2e80", "#7e1a1a"]}, "legend": null}}},
  {"data": {"name": "irslab"}, "mark": {"type": "text", "font": "Liberation Serif", "fontSize": 7.5, "color": "#222222"}, "encoding": {"text": {"field": "t"}}},
  {"data": {"name": "pts"}, "transform": [{"filter": "datum.p==1"}], "mark": {"type": "circle", "size": 70, "opacity": 1},
   "encoding": {
    "x": {"field": "lam", "type": "quantitative", "scale": {"type": "log", "domain": [0.149, 39.9]},
          "axis": {"orient": "bottom", "values": [0.2,0.3,0.4,0.5,0.6,0.7,0.8,0.9,1,2,3,4,5,6,7,8,9,10,20,30], "labelExpr": "datum.value==1 ? '10⁰' : (datum.value==10 ? '10¹' : '')", "labelFontSize": {"condition": {"test": "datum.value==1 || datum.value==10", "value": 11}, "value": 0}, "tickSize": {"condition": {"test": "datum.value==1 || datum.value==10", "value": -4}, "value": -2}, "labelPadding": 7, "title": "λₒ [μm]", "titleFontSize": 12, "titleY": 21, "titleBaseline": "middle"}},
    "y": {"field": "f", "type": "quantitative", "scale": {"domain": [-3.5, 0.31]},
          "axis": {"orient": "left", "values": [-3.5,-3.4,-3.3,-3.2,-3.1,-3,-2.9,-2.8,-2.7,-2.6,-2.5,-2.4,-2.3,-2.2,-2.1,-2,-1.9,-1.8,-1.7,-1.6,-1.5,-1.4,-1.3,-1.2,-1.1,-1,-0.9,-0.8,-0.7,-0.6,-0.5,-0.4,-0.3,-0.2,-0.1,0,0.1,0.2,0.3], "labelExpr": "abs(datum.value*2-round(datum.value*2))<0.01 ? format(datum.value,'.1f') : ''", "labelFontSize": {"condition": {"test": "abs(datum.value*2-round(datum.value*2))<0.01", "value": 11}, "value": 0}, "tickSize": {"condition": {"test": "abs(datum.value*2-round(datum.value*2))<0.01", "value": -4}, "value": -2}, "labelPadding": 9, "title": "log Fᵥ [Jy]", "titleFontSize": 10, "titleX": -35, "titleBaseline": "middle"}},
    "color": {"field": "inst", "type": "nominal", "scale": {"domain": ["GALEX", "SDSS", "2MASS XSC", "IRAC corrected", "MIPS24", "WISE"], "range": ["#f000f0", "#2ee8ee", "#0f1bd6", "#1e8c1e", "#f0a020", "#000000"]}, "legend": {"orient": "top-right", "title": null}}
   }},
  {"data": {"name": "pts"}, "transform": [{"filter": "datum.p==1"}], "mark": {"type": "circle", "opacity": 0},
   "encoding": {
    "x": {"field": "lam", "type": "quantitative", "scale": {"type": "log", "domain": [0.149, 39.9]},
          "axis": {"orient": "top", "values": [0.2,0.3,0.4,0.5,0.6,0.7,0.8,0.9,1,2,3,4,5,6,7,8,9,10,20,30], "labels": false, "title": null, "tickSize": {"condition": {"test": "datum.value==1 || datum.value==10", "value": -4}, "value": -2}}},
    "y": {"field": "f", "type": "quantitative", "scale": {"domain": [-3.5, 0.31]},
          "axis": {"orient": "right", "values": [-3.5,-3.4,-3.3,-3.2,-3.1,-3,-2.9,-2.8,-2.7,-2.6,-2.5,-2.4,-2.3,-2.2,-2.1,-2,-1.9,-1.8,-1.7,-1.6,-1.5,-1.4,-1.3,-1.2,-1.1,-1,-0.9,-0.8,-0.7,-0.6,-0.5,-0.4,-0.3,-0.2,-0.1,0,0.1,0.2,0.3], "labels": false, "title": null, "tickSize": {"condition": {"test": "abs(datum.value*2-round(datum.value*2))<0.01", "value": -4}, "value": -2}}}
   }},
  {"data": {"name": "ann"}, "transform": [{"filter": "datum.p==1 && datum.c=='k'"}], "mark": {"type": "text", "align": "left", "baseline": "middle", "font": "Liberation Sans", "fontSize": 10, "color": "#000000"}, "encoding": {"text": {"field": "t"}}},
  {"data": {"name": "ann"}, "transform": [{"filter": "datum.p==1 && datum.c=='b'"}], "mark": {"type": "text", "align": "center", "baseline": "middle", "font": "Liberation Sans", "fontSize": 10, "color": "#3030b0"}, "encoding": {"text": {"field": "t"}}}
 ],
 "resolve": {"axis": {"x": "independent", "y": "independent"}}
},
{
 "width": 406, "height": 312,
 "encoding": {
  "x": {"field": "lam", "type": "quantitative", "scale": {"type": "log", "domain": [0.152, 40.5]}, "axis": null},
  "y": {"field": "f", "type": "quantitative", "scale": {"domain": [-3.79, -0.14]}, "axis": null}
 },
 "layer": [
  {"data": {"name": "models"}, "transform": [{"filter": "datum.p==2 && datum.m=='E5'"}], "mark": {"type": "line", "color": "#b4b4e4", "strokeWidth": 1.1, "clip": true}},
  {"data": {"name": "models"}, "transform": [{"filter": "datum.p==2 && datum.m=='E13'"}], "mark": {"type": "line", "color": "#a9a9a9", "strokeWidth": 1.1, "clip": true}},
  {"data": {"name": "pts"}, "transform": [{"filter": "datum.p==2"}], "mark": {"type": "circle", "size": 70, "opacity": 1},
   "encoding": {
    "x": {"field": "lam", "type": "quantitative", "scale": {"type": "log", "domain": [0.152, 40.5]},
          "axis": {"orient": "bottom", "values": [0.2,0.3,0.4,0.5,0.6,0.7,0.8,0.9,1,2,3,4,5,6,7,8,9,10,20,30,40], "labelExpr": "datum.value==1 ? '10⁰' : (datum.value==10 ? '10¹' : '')", "labelFontSize": {"condition": {"test": "datum.value==1 || datum.value==10", "value": 11}, "value": 0}, "tickSize": {"condition": {"test": "datum.value==1 || datum.value==10", "value": -4}, "value": -2}, "labelPadding": 7, "title": "λₒ [μm]", "titleFontSize": 12, "titleY": 21, "titleBaseline": "middle"}},
    "y": {"field": "f", "type": "quantitative", "scale": {"domain": [-3.79, -0.14]},
          "axis": {"orient": "left", "values": [-3.7,-3.6,-3.5,-3.4,-3.3,-3.2,-3.1,-3,-2.9,-2.8,-2.7,-2.6,-2.5,-2.4,-2.3,-2.2,-2.1,-2,-1.9,-1.8,-1.7,-1.6,-1.5,-1.4,-1.3,-1.2,-1.1,-1,-0.9,-0.8,-0.7,-0.6,-0.5,-0.4,-0.3,-0.2], "labelExpr": "abs(datum.value*2-round(datum.value*2))<0.01 ? format(datum.value,'.1f') : ''", "labelFontSize": {"condition": {"test": "abs(datum.value*2-round(datum.value*2))<0.01", "value": 11}, "value": 0}, "tickSize": {"condition": {"test": "abs(datum.value*2-round(datum.value*2))<0.01", "value": -4}, "value": -2}, "labelPadding": 9, "title": "log Fᵥ [Jy]", "titleFontSize": 10, "titleX": -35, "titleBaseline": "middle"}},
    "color": {"field": "inst", "type": "nominal", "scale": {"domain": ["GALEX", "SDSS", "2MASS XSC", "IRAC corrected", "MIPS24", "WISE"], "range": ["#f000f0", "#2ee8ee", "#0f1bd6", "#1e8c1e", "#f0a020", "#000000"]}, "legend": {"orient": "top-right", "title": null}}
   }},
  {"data": {"name": "pts"}, "transform": [{"filter": "datum.p==2"}], "mark": {"type": "circle", "opacity": 0},
   "encoding": {
    "x": {"field": "lam", "type": "quantitative", "scale": {"type": "log", "domain": [0.152, 40.5]},
          "axis": {"orient": "top", "values": [0.2,0.3,0.4,0.5,0.6,0.7,0.8,0.9,1,2,3,4,5,6,7,8,9,10,20,30,40], "labels": false, "title": null, "tickSize": {"condition": {"test": "datum.value==1 || datum.value==10", "value": -4}, "value": -2}}},
    "y": {"field": "f", "type": "quantitative", "scale": {"domain": [-3.79, -0.14]},
          "axis": {"orient": "right", "values": [-3.7,-3.6,-3.5,-3.4,-3.3,-3.2,-3.1,-3,-2.9,-2.8,-2.7,-2.6,-2.5,-2.4,-2.3,-2.2,-2.1,-2,-1.9,-1.8,-1.7,-1.6,-1.5,-1.4,-1.3,-1.2,-1.1,-1,-0.9,-0.8,-0.7,-0.6,-0.5,-0.4,-0.3,-0.2], "labels": false, "title": null, "tickSize": {"condition": {"test": "abs(datum.value*2-round(datum.value*2))<0.01", "value": -4}, "value": -2}}}
   }},
  {"data": {"name": "ann"}, "transform": [{"filter": "datum.p==2 && datum.c=='k'"}], "mark": {"type": "text", "align": "left", "baseline": "middle", "font": "Liberation Sans", "fontSize": 10, "color": "#000000"}, "encoding": {"text": {"field": "t"}}},
  {"data": {"name": "ann"}, "transform": [{"filter": "datum.p==2 && datum.c=='b'"}], "mark": {"type": "text", "align": "center", "baseline": "middle", "font": "Liberation Sans", "fontSize": 10, "color": "#3030b0"}, "encoding": {"text": {"field": "t"}}}
 ],
 "resolve": {"axis": {"x": "independent", "y": "independent"}}
},
{
 "width": 406, "height": 312,
 "encoding": {
  "x": {"field": "lam", "type": "quantitative", "scale": {"type": "log", "domain": [0.148, 40.2]}, "axis": null},
  "y": {"field": "f", "type": "quantitative", "scale": {"domain": [-2.5, 0.9]}, "axis": null}
 },
 "layer": [
  {"data": {"name": "models"}, "transform": [{"filter": "datum.p==3 && datum.m=='E5'"}], "mark": {"type": "line", "color": "#b4b4e4", "strokeWidth": 1.1, "clip": true}},
  {"data": {"name": "models"}, "transform": [{"filter": "datum.p==3 && datum.m=='E13'"}], "mark": {"type": "line", "color": "#a9a9a9", "strokeWidth": 1.1, "clip": true}},
  {"data": {"name": "pts"}, "transform": [{"filter": "datum.p==3"}], "mark": {"type": "circle", "size": 70, "opacity": 1},
   "encoding": {
    "x": {"field": "lam", "type": "quantitative", "scale": {"type": "log", "domain": [0.148, 40.2]},
          "axis": {"orient": "bottom", "values": [0.2,0.3,0.4,0.5,0.6,0.7,0.8,0.9,1,2,3,4,5,6,7,8,9,10,20,30,40], "labelExpr": "datum.value==1 ? '10⁰' : (datum.value==10 ? '10¹' : '')", "labelFontSize": {"condition": {"test": "datum.value==1 || datum.value==10", "value": 11}, "value": 0}, "tickSize": {"condition": {"test": "datum.value==1 || datum.value==10", "value": -4}, "value": -2}, "labelPadding": 7, "title": "λₒ [μm]", "titleFontSize": 12, "titleY": 21, "titleBaseline": "middle"}},
    "y": {"field": "f", "type": "quantitative", "scale": {"domain": [-2.5, 0.9]},
          "axis": {"orient": "left", "values": [-2.5,-2.4,-2.3,-2.2,-2.1,-2,-1.9,-1.8,-1.7,-1.6,-1.5,-1.4,-1.3,-1.2,-1.1,-1,-0.9,-0.8,-0.7,-0.6,-0.5,-0.4,-0.3,-0.2,-0.1,0,0.1,0.2,0.3,0.4,0.5,0.6,0.7,0.8,0.9], "labelExpr": "abs(datum.value*2-round(datum.value*2))<0.01 ? format(datum.value,'.1f') : ''", "labelFontSize": {"condition": {"test": "abs(datum.value*2-round(datum.value*2))<0.01", "value": 11}, "value": 0}, "tickSize": {"condition": {"test": "abs(datum.value*2-round(datum.value*2))<0.01", "value": -4}, "value": -2}, "labelPadding": 9, "title": "log Fᵥ [Jy]", "titleFontSize": 10, "titleX": -35, "titleBaseline": "middle"}},
    "color": {"field": "inst", "type": "nominal", "scale": {"domain": ["GALEX", "SDSS", "2MASS XSC", "MIPS24", "WISE"], "range": ["#f000f0", "#2ee8ee", "#0f1bd6", "#f0a020", "#000000"]}, "legend": {"orient": "top-right", "title": null}}
   }},
  {"data": {"name": "pts"}, "transform": [{"filter": "datum.p==3"}], "mark": {"type": "circle", "opacity": 0},
   "encoding": {
    "x": {"field": "lam", "type": "quantitative", "scale": {"type": "log", "domain": [0.148, 40.2]},
          "axis": {"orient": "top", "values": [0.2,0.3,0.4,0.5,0.6,0.7,0.8,0.9,1,2,3,4,5,6,7,8,9,10,20,30,40], "labels": false, "title": null, "tickSize": {"condition": {"test": "datum.value==1 || datum.value==10", "value": -4}, "value": -2}}},
    "y": {"field": "f", "type": "quantitative", "scale": {"domain": [-2.5, 0.9]},
          "axis": {"orient": "right", "values": [-2.5,-2.4,-2.3,-2.2,-2.1,-2,-1.9,-1.8,-1.7,-1.6,-1.5,-1.4,-1.3,-1.2,-1.1,-1,-0.9,-0.8,-0.7,-0.6,-0.5,-0.4,-0.3,-0.2,-0.1,0,0.1,0.2,0.3,0.4,0.5,0.6,0.7,0.8,0.9], "labels": false, "title": null, "tickSize": {"condition": {"test": "abs(datum.value*2-round(datum.value*2))<0.01", "value": -4}, "value": -2}}}
   }},
  {"data": {"name": "ann"}, "transform": [{"filter": "datum.p==3 && datum.c=='k'"}], "mark": {"type": "text", "align": "left", "baseline": "middle", "font": "Liberation Sans", "fontSize": 10, "color": "#000000"}, "encoding": {"text": {"field": "t"}}},
  {"data": {"name": "ann"}, "transform": [{"filter": "datum.p==3 && datum.c=='b'"}], "mark": {"type": "text", "align": "center", "baseline": "middle", "font": "Liberation Sans", "fontSize": 10, "color": "#3030b0"}, "encoding": {"text": {"field": "t"}}}
 ],
 "resolve": {"axis": {"x": "independent", "y": "independent"}}
}
],
"resolve": {"scale": {"color": "independent"}, "legend": {"color": "independent"}}
}
